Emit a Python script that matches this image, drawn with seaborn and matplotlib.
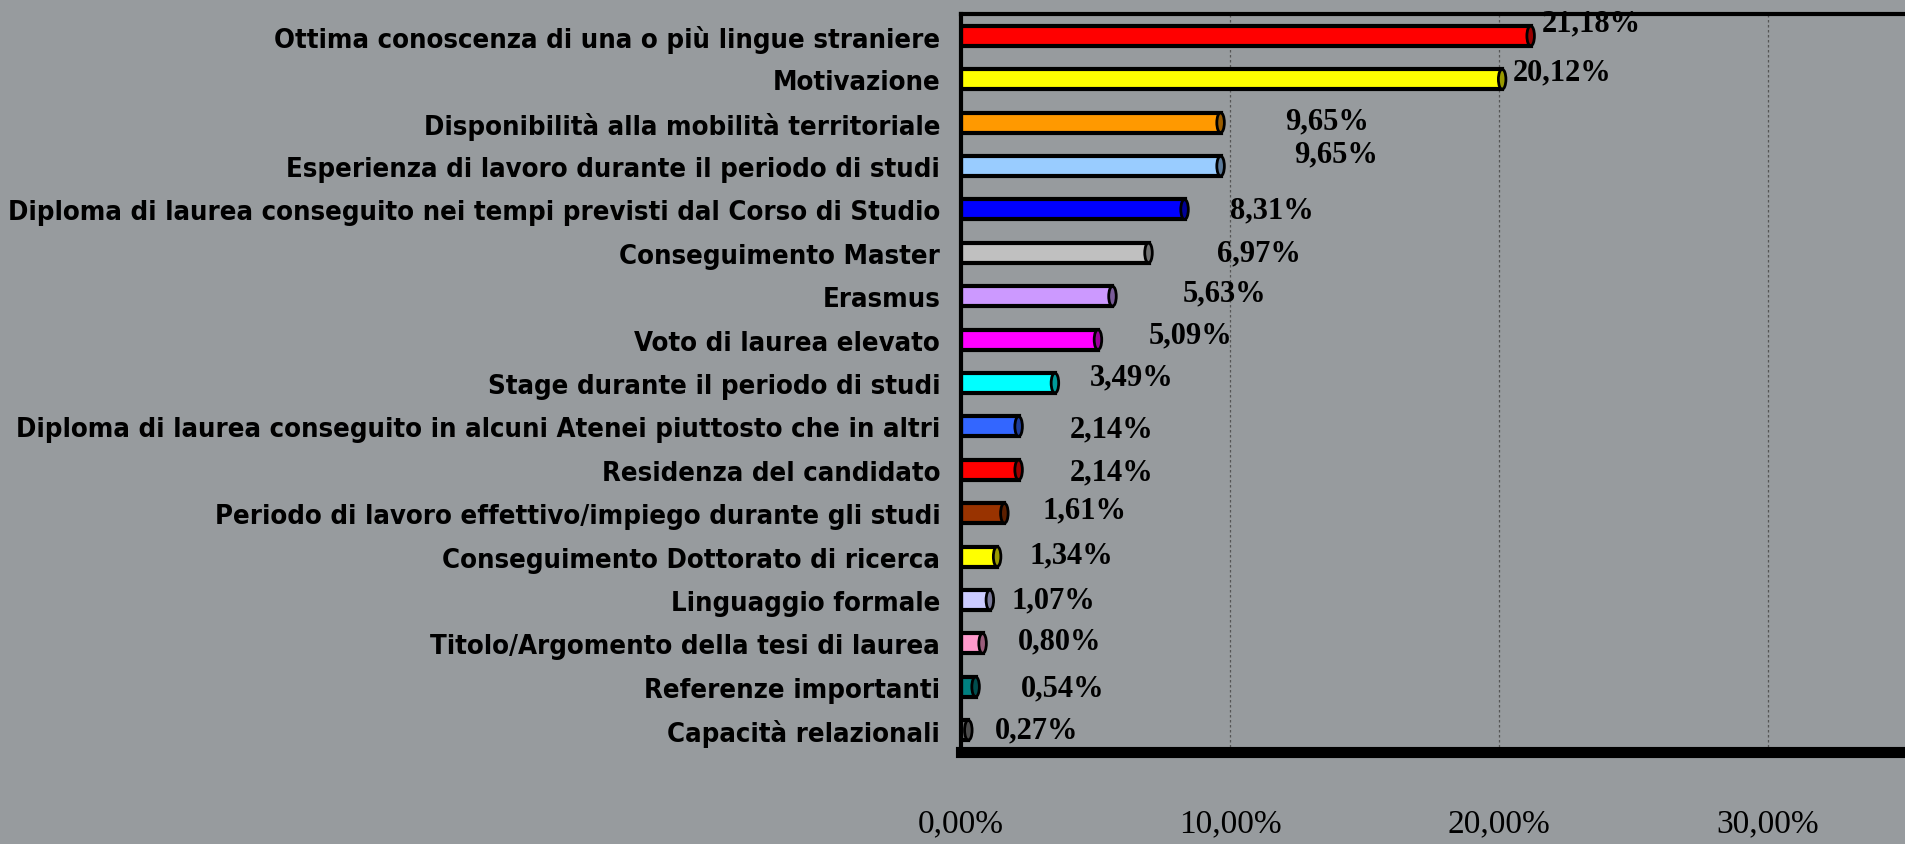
import matplotlib
matplotlib.use("Agg")
import matplotlib.pyplot as plt
import matplotlib.colors as mcolors
from matplotlib.patches import Ellipse
from matplotlib.ticker import FuncFormatter
import seaborn as sns

categories = [
    "Ottima conoscenza di una o più lingue straniere",
    "Motivazione",
    "Disponibilità alla mobilità territoriale",
    "Esperienza di lavoro durante il periodo di studi",
    "Diploma di laurea conseguito nei tempi previsti dal Corso di Studio",
    "Conseguimento Master",
    "Erasmus",
    "Voto di laurea elevato",
    "Stage durante il periodo di studi",
    "Diploma di laurea conseguito in alcuni Atenei piuttosto che in altri",
    "Residenza del candidato",
    "Periodo di lavoro effettivo/impiego durante gli studi",
    "Conseguimento Dottorato di ricerca",
    "Linguaggio formale",
    "Titolo/Argomento della tesi di laurea",
    "Referenze importanti",
    "Capacità relazionali",
]
values = [21.18, 20.12, 9.65, 9.65, 8.31, 6.97, 5.63, 5.09, 3.49, 2.14, 2.14,
          1.61, 1.34, 1.07, 0.80, 0.54, 0.27]
x_ticks = [0, 10, 20, 30]

bar_colors = ["#ff0000", "#ffff00", "#ff9900", "#99ccff", "#0000ff", "#c0c0c0",
              "#cc99ff", "#ff00ff", "#00ffff", "#3366ff", "#ff0000", "#993300",
              "#ffff00", "#ccccff", "#ff99cc", "#008080", "#808080"]

# where Excel dropped the value labels (offsets from the bar end, in % / rows)
label_dx = [0.4, 0.4, 2.4, 2.75, 1.7, 2.55, 2.6, 1.9, 1.3, 1.9, 1.9, 1.4, 1.2, 0.8, 1.3, 1.7, 1.0]
label_dy = [-0.3, -0.18, -0.05, -0.28, 0.0, 0.0, -0.07, -0.1, -0.15, 0.05, 0.05, -0.07, -0.05, 0.0, -0.05, 0.02, 0.0]

BG = "#979b9e"

sns.set_theme(style="white")
plt.rcParams["font.family"] = ["DejaVu Sans"]

fig = plt.figure(figsize=(19.05, 8.45), dpi=100, facecolor=BG)
ax = fig.add_axes([0.5045, 0.109, 0.4955, 0.873])
ax.set_facecolor(BG)

sns.barplot(x=values, y=categories, hue=categories, palette=bar_colors, legend=False,
            width=0.46, edgecolor="black", linewidth=3, saturation=1, ax=ax)

# little 3D caps at the bar ends
for bar, col in zip(ax.patches, bar_colors):
    xe = bar.get_x() + bar.get_width()
    yc = bar.get_y() + bar.get_height() / 2
    shade = tuple(c * 0.6 for c in mcolors.to_rgb(col))
    ax.add_patch(Ellipse((xe, yc), 0.28, bar.get_height(), facecolor=shade,
                         edgecolor="black", linewidth=2, zorder=3))

for i, v in enumerate(values):
    ax.text(v + label_dx[i], i + label_dy[i], f"{v:.2f}%".replace(".", ","),
            ha="left", va="center", fontsize=22, fontweight="bold",
            family="Liberation Serif", color="black")

ax.set_xlim(0, 35.1)
ax.set_ylim(16.5, -0.5)
ax.set_xticks(x_ticks)
ax.xaxis.set_major_formatter(FuncFormatter(lambda v, p: f"{v:.2f}%".replace(".", ",")))
ax.set_xlabel("")
ax.set_ylabel("")

ax.grid(axis="x", color="#555555", linestyle=(0, (2, 2)), linewidth=0.9)
ax.set_axisbelow(True)

for side in ["top", "left"]:
    ax.spines[side].set_color("black")
    ax.spines[side].set_linewidth(3)
ax.spines["right"].set_visible(False)
ax.spines["bottom"].set_color("black")
ax.spines["bottom"].set_linewidth(8)

ax.tick_params(axis="x", direction="out", length=16, width=2.5, color="black",
               pad=24, labelsize=24, labelcolor="black")
for lab in ax.get_xticklabels():
    lab.set_family("Liberation Serif")
ax.tick_params(axis="y", direction="out", length=9, width=3, color="black",
               pad=6, labelsize=19.7, labelcolor="black")
for lab in ax.get_yticklabels():
    lab.set_fontweight("bold")
    lab.set_fontstretch("condensed")

fig.savefig("out.png", dpi=100, facecolor=BG)
